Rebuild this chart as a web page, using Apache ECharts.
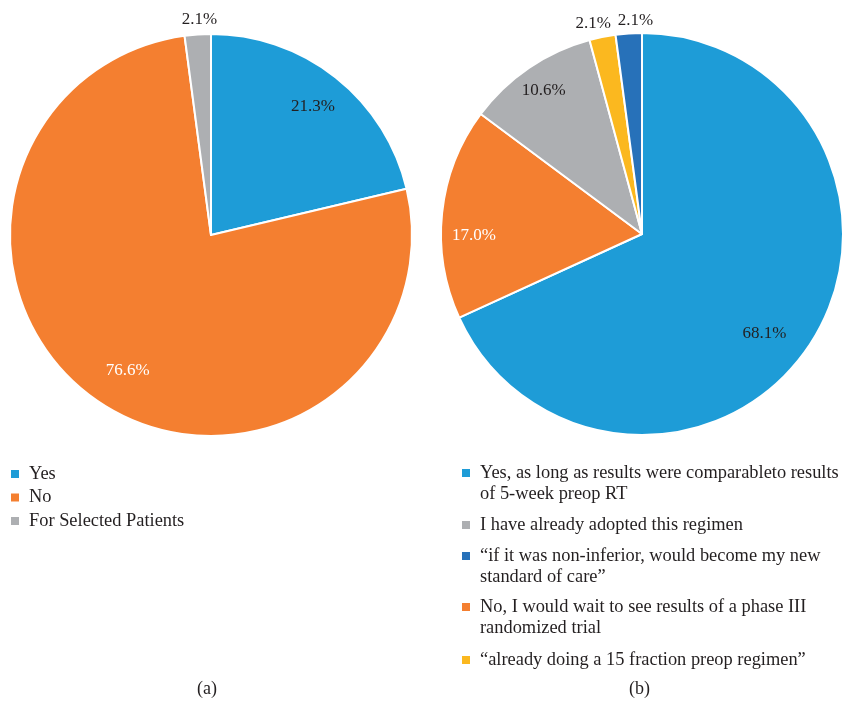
<!DOCTYPE html>
<html><head><meta charset="utf-8">
<script src="https://cdn.jsdelivr.net/npm/echarts@6/dist/echarts.min.js"></script>
<style>html,body{margin:0;padding:0;background:#fff}#c{width:842px;height:709px}</style>
</head><body><div id="c"></div>
<script>
// ---- data ----
const leftNames = ['Yes', 'No', 'For Selected Patients'];
const leftValues = [21.3, 76.6, 2.1];

const rightNames = [
  'Yes, as long as results were comparableto results of 5-week preop RT',
  'No, I would wait to see results of a phase III randomized trial',
  'I have already adopted this regimen',
  '\u201calready doing a 15 fraction preop regimen\u201d',
  '\u201cif it was non-inferior, would become my new standard of care\u201d'
];
const rightValues = [68.1, 17.0, 10.6, 2.1, 2.1];
// legend display text (line-broken) and order
const rightLegendText = [
  'Yes, as long as results were comparableto results\nof 5-week preop RT',
  'No, I would wait to see results of a phase III\nrandomized trial',
  'I have already adopted this regimen',
  '\u201calready doing a 15 fraction preop regimen\u201d',
  '\u201cif it was non-inferior, would become my new\nstandard of care\u201d'
];
const rightLegendOrder = [0, 2, 4, 1, 3];
const captions = ['(a)', '(b)'];

// ---- styles ----
const FONT = '"Liberation Serif", "Times New Roman", serif';
const TXT = '#231f20';
const leftColors = ['#1e9cd7', '#f47f30', '#adafb2'];
const rightColors = ['#1e9cd7', '#f47f30', '#adafb2', '#fbb81f', '#2771b9'];
const leftCenter = [211, 235], rightCenter = [642, 234];
const R = 201;

function mainPie(center, names, values, colors) {
  return {
    type: 'pie', center: center, radius: [0, R], startAngle: 90, clockwise: true,
    silent: true, avoidLabelOverlap: false,
    label: { show: false }, labelLine: { show: false },
    itemStyle: { borderColor: '#fff', borderWidth: 2 },
    emphasis: { disabled: true },
    data: names.map((n, i) => ({ name: n, value: values[i], itemStyle: { color: colors[i] } }))
  };
}
// transparent overlay pie that only places one slice label (label placement tweak via shift)
function labelPie(center, names, values, idx, rMid, color, shift) {
  return {
    type: 'pie', center: [center[0] + shift[0], center[1] + shift[1]],
    radius: [rMid - 20, rMid + 20], startAngle: 90, clockwise: true,
    silent: true, avoidLabelOverlap: false, legendHoverLink: false,
    itemStyle: { color: 'rgba(0,0,0,0)', borderWidth: 0 },
    emphasis: { disabled: true },
    labelLine: { show: false },
    labelLayout: { hideOverlap: false },
    data: names.map((n, i) => ({
      name: n, value: values[i],
      label: {
        show: i === idx, position: 'inside', formatter: (p) => p.value.toFixed(1) + '%',
        color: color, fontFamily: FONT, fontSize: 17
      }
    }))
  };
}

const legendBase = {
  orient: 'vertical', padding: 0, itemWidth: 10, itemHeight: 10, icon: 'rect',
  selectedMode: false
};
// right legends: first-line centre y for each legend entry (in legend order)
const rightLegendY = [473, 525, 556, 607, 660];
const legends = [
  Object.assign({}, legendBase, {
    left: 9, top: 463.5, itemGap: 2.5,
    data: leftNames,
    textStyle: { fontFamily: FONT, fontSize: 18.4, color: TXT, lineHeight: 21, padding: [0, 0, 0, 4] }
  })
];
rightLegendOrder.forEach((k, j) => {
  const text = rightLegendText[k];
  const twoLine = text.split('\n').length > 1;
  const L = 21.5;
  legends.push(Object.assign({}, legendBase, {
    left: 460,
    top: rightLegendY[j] - (twoLine ? 1.5 * L : 0.5 * L),
    data: [rightNames[k]],
    // a leading blank line keeps the icon level with the first text line
    formatter: () => (twoLine ? ' \n' : '') + text,
    textStyle: { fontFamily: FONT, fontSize: 18.4, color: TXT, lineHeight: L, padding: [0, 0, 0, 4] }
  }));
});

const chart = echarts.init(document.getElementById('c'), null, { renderer: 'canvas' });
chart.setOption({
  animation: false,
  title: [
    { text: captions[0], left: 197, top: 680, textStyle: { fontFamily: FONT, fontSize: 18, fontWeight: 'normal', color: TXT }, padding: 0 },
    { text: captions[1], left: 629, top: 680, textStyle: { fontFamily: FONT, fontSize: 18, fontWeight: 'normal', color: TXT }, padding: 0 }
  ],
  legend: legends,
  series: [
    mainPie(leftCenter, leftNames, leftValues, leftColors),
    mainPie(rightCenter, rightNames, rightValues, rightColors),
    labelPie(leftCenter, leftNames, leftValues, 0, 158, TXT, [2, -2.5]),
    labelPie(leftCenter, leftNames, leftValues, 1, 158, '#fff', [8, 3]),
    labelPie(leftCenter, leftNames, leftValues, 2, 218, TXT, [3, 5]),
    labelPie(rightCenter, rightNames, rightValues, 0, 152, TXT, [-8, 16]),
    labelPie(rightCenter, rightNames, rightValues, 1, 167, '#fff', [1, 19]),
    labelPie(rightCenter, rightNames, rightValues, 2, 177, TXT, [3, 5]),
    labelPie(rightCenter, rightNames, rightValues, 3, 220, TXT, [-5, 8.5]),
    labelPie(rightCenter, rightNames, rightValues, 4, 218, TXT, [8, 7])
  ]
});
</script>
</body></html>
